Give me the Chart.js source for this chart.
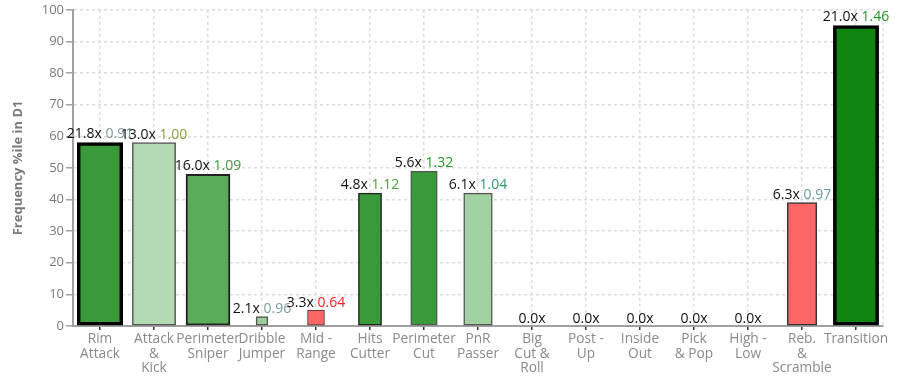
<!DOCTYPE html>
<html>
<head>
<meta charset="utf-8">
<script src="https://cdn.jsdelivr.net/npm/chart.js@4.4.0/dist/chart.umd.min.js"></script>
<style>
    html, body { margin: 0; padding: 0; background: #fff; }
    #chartDiv { width: 922px; height: 377px; }
</style>
</head>
<body>
<div id="chartDiv"><canvas id="playTypes" width="922" height="377"></canvas></div>
<script>
// play types (x axis)
const playTypes = [
    ["Rim", "Attack"],
    ["Attack", "&", "Kick"],
    ["Perimeter", "Sniper"],
    ["Dribble", "Jumper"],
    ["Mid -", "Range"],
    ["Hits", "Cutter"],
    ["Perimeter", "Cut"],
    ["PnR", "Passer"],
    ["Big", "Cut &", "Roll"],
    ["Post -", "Up"],
    ["Inside", "Out"],
    ["Pick", "& Pop"],
    ["High -", "Low"],
    ["Reb.", "&", "Scramble"],
    ["Transition"],
];

// frequency percentile in D1 (bar height)
const frequencyPct = [58, 58, 48, 3, 5, 42, 49, 42, 0, 0, 0, 0, 0, 39, 95];

// frequency multiplier shown above the bar
const multipliers = [21.8, 13.0, 16.0, 2.1, 3.3, 4.8, 5.6, 6.1, 0.0, 0.0, 0.0, 0.0, 0.0, 6.3, 21.0];

// efficiency rating shown next to the multiplier
const ratings = [0.91, 1.00, 1.09, 0.96, 0.64, 1.12, 1.32, 1.04, null, null, null, null, null, 0.97, 1.46];

const yTicksMax = 100;

// styles
const barColors = ["#3a9a3a", "#b4dab4", "#5aac5a", "#9ccb9c", "#ff6666", "#3a9a3a", "#3a9a3a", "#a2d2a2",
    "#3a9a3a", "#3a9a3a", "#3a9a3a", "#3a9a3a", "#3a9a3a", "#ff6666", "#0f850f"];
const barBorders = ["#000", "#555", "#222", "#555", "#333", "#222", "#555", "#555",
    "#555", "#555", "#555", "#555", "#555", "#333", "#000"];
const barBorderWidths = [3.5, 1.5, 2, 1.5, 1, 1.5, 1.5, 1.5, 1, 1, 1, 1, 1, 1.5, 3.5];
const ratingColors = ["#7f9a9a", "#8a9f3a", "#3c9c3c", "#7f9c9c", "#ff2020", "#4a9f3a", "#229922", "#2a9a6a",
    null, null, null, null, null, "#6a9a9a", "#1f9a1f"];

const labelFont = "14px 'Open Sans'";

// bar width grows with the multiplier, then levels off
const thicknessFor = (m) => Math.min(3 + 4.2 * m, 40 + m / 4);

const datasets = playTypes.map((name, i) => {
    return {
        label: name.join(" "),
        data: playTypes.map((n, j) => (j === i ? frequencyPct[i] : null)),
        backgroundColor: barColors[i],
        borderColor: barBorders[i],
        borderWidth: barBorderWidths[i],
        borderSkipped: false,
        barThickness: thicknessFor(multipliers[i]),
        grouped: false,
    };
});

const barLabels = {
    id: "barLabels",
    afterDatasetsDraw(chart) {
        const ctx = chart.ctx;
        ctx.save();
        ctx.font = labelFont;
        ctx.textBaseline = "alphabetic";
        ctx.textAlign = "left";
        chart.data.datasets.forEach((ds, i) => {
            const bar = chart.getDatasetMeta(i).data[i];
            const first = multipliers[i].toFixed(1) + "x";
            const second = ratings[i] != null ? " " + ratings[i].toFixed(2) : "";
            const w1 = ctx.measureText(first).width;
            const w2 = ctx.measureText(second).width;
            let x = bar.x - (w1 + w2) / 2;
            const top = bar.y - barBorderWidths[i] / 2;
            const y = Math.min(top, chart.scales.y.getPixelForValue(0)) - 3;
            ctx.fillStyle = "#111";
            ctx.fillText(first, x, y);
            if (second) {
                ctx.fillStyle = ratingColors[i];
                ctx.fillText(second, x + w1, y);
            }
        });
        ctx.restore();
    },
};

const rightEdge = {
    id: "rightEdge",
    beforeDatasetsDraw(chart) {
        const {ctx, chartArea} = chart;
        ctx.save();
        ctx.strokeStyle = "#dddddd";
        ctx.setLineDash([3, 3]);
        ctx.lineWidth = 1.5;
        ctx.beginPath();
        ctx.moveTo(chartArea.right, chartArea.top);
        ctx.lineTo(chartArea.right, chartArea.bottom);
        ctx.stroke();
        ctx.restore();
    },
};

const ctx = document.getElementById("playTypes").getContext("2d");

new Chart(ctx, {
    type: "bar",
    data: {
        labels: playTypes,
        datasets: datasets,
    },
    plugins: [rightEdge, barLabels],
    options: {
        responsive: false,
        animation: false,
        layout: {
            padding: {top: 7, right: 39, bottom: 0, left: 0},
        },
        plugins: {
            legend: {display: false},
            tooltip: {enabled: false},
        },
        scales: {
            x: {
                afterFit: (scale) => { scale.height = 51; },
                grid: {
                    offset: false,
                    color: "#dddddd",
                    lineWidth: 1.5,
                    tickColor: "#333",
                    tickLength: 4,
                },
                border: {
                    display: true,
                    color: "#a0a0a0",
                    width: 2,
                    dash: [3, 3],
                },
                ticks: {
                    color: "#8a8a8a",
                    padding: 2,
                    maxRotation: 0,
                    autoSkip: false,
                    font: {family: "'Open Sans'", size: 13.7, lineHeight: 1.06},
                },
            },
            y: {
                min: 0,
                max: yTicksMax,
                afterFit: (scale) => { scale.width = 73; },
                grid: {
                    color: "#dddddd",
                    lineWidth: 1.5,
                    tickColor: "#a0a0a0",
                    tickLength: 7,
                },
                border: {
                    display: true,
                    color: "#a0a0a0",
                    width: 2,
                    dash: [3, 3],
                },
                ticks: {
                    stepSize: 10,
                    color: "#7a7a7a",
                    padding: 2,
                    font: {family: "'Open Sans'", size: 13},
                },
                title: {
                    display: true,
                    text: "Frequency %ile in D1",
                    color: "#7a7a7a",
                    padding: {top: 10, bottom: 0},
                    font: {family: "'Open Sans'", size: 13, weight: "bold"},
                },
            },
        },
    },
});
</script>
</body>
</html>
